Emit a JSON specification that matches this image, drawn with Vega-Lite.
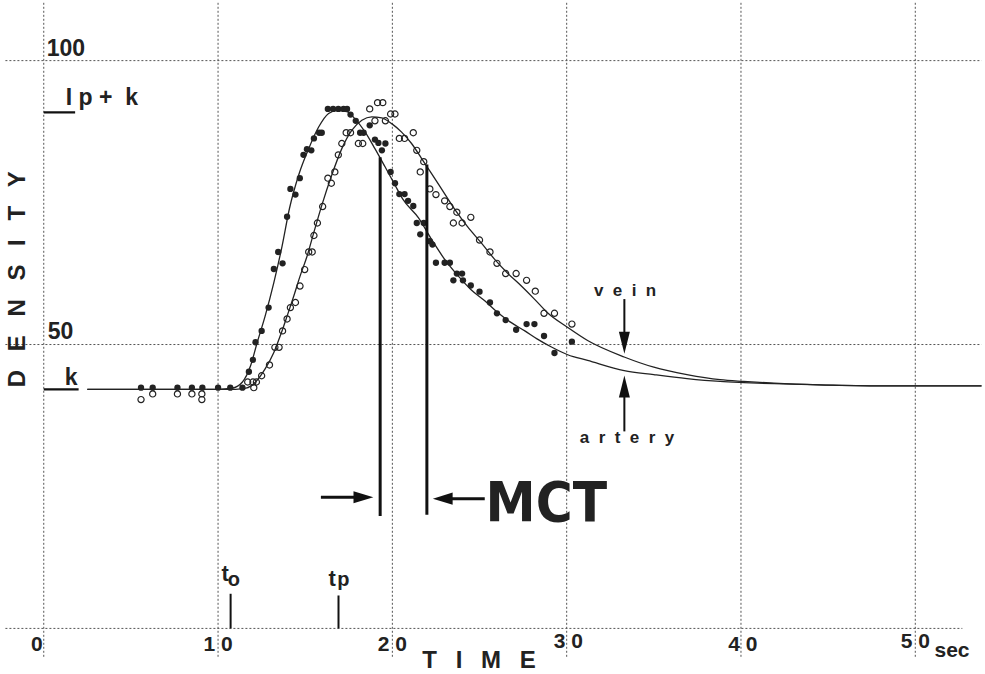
{
  "$schema": "https://vega.github.io/schema/vega-lite/v6.json",
  "width": 985,
  "height": 674,
  "autosize": {"type": "fit", "contains": "padding"},
  "padding": 0,
  "background": "white",
  "config": {"view": {"stroke": null}},
  "datasets": {
    "vgrid": [{"x": 0, "y": -5, "y2": 110.5}, {"x": 10, "y": -5, "y2": 110.5}, {"x": 20, "y": -5, "y2": 110.5}, {"x": 30, "y": -5, "y2": 110.5}, {"x": 40, "y": -5, "y2": 110.5}, {"x": 50, "y": -5, "y2": 110.5}],
    "hgrid": [{"y": 0, "x": -2.2, "x2": 52.7}, {"y": 50, "x": -2.2, "x2": 53.8}, {"y": 100, "x": -2.2, "x2": 53.8}],
    "curves": [
      {"s": "artery", "x": 2.5, "y": 42.1}, {"s": "artery", "x": 10.0, "y": 42.1}, {"s": "artery", "x": 10.8, "y": 42.3}, {"s": "artery", "x": 11.4, "y": 43.4}, {"s": "artery", "x": 11.87, "y": 46.3}, {"s": "artery", "x": 12.25, "y": 50.4}, {"s": "artery", "x": 12.7, "y": 55.0}, {"s": "artery", "x": 13.2, "y": 60.9}, {"s": "artery", "x": 13.67, "y": 67.3}, {"s": "artery", "x": 14.1, "y": 74.0}, {"s": "artery", "x": 14.63, "y": 79.9}, {"s": "artery", "x": 15.2, "y": 84.5}, {"s": "artery", "x": 15.77, "y": 88.3}, {"s": "artery", "x": 16.34, "y": 90.7}, {"s": "artery", "x": 16.8, "y": 91.2}, {"s": "artery", "x": 17.39, "y": 91.0}, {"s": "artery", "x": 17.87, "y": 89.7}, {"s": "artery", "x": 18.44, "y": 87.4}, {"s": "artery", "x": 19.0, "y": 84.5}, {"s": "artery", "x": 19.58, "y": 81.3}, {"s": "artery", "x": 20.15, "y": 78.1}, {"s": "artery", "x": 20.6, "y": 75.6}, {"s": "artery", "x": 21.5, "y": 72.3}, {"s": "artery", "x": 22.25, "y": 68.5}, {"s": "artery", "x": 23.0, "y": 65.0}, {"s": "artery", "x": 23.8, "y": 62.0}, {"s": "artery", "x": 24.5, "y": 59.7}, {"s": "artery", "x": 25.3, "y": 57.7}, {"s": "artery", "x": 26.06, "y": 55.6}, {"s": "artery", "x": 26.8, "y": 53.9}, {"s": "artery", "x": 27.6, "y": 52.4}, {"s": "artery", "x": 28.3, "y": 51.0}, {"s": "artery", "x": 29.1, "y": 49.6}, {"s": "artery", "x": 30.06, "y": 48.2}, {"s": "artery", "x": 31.2, "y": 47.2}, {"s": "artery", "x": 33.3, "y": 45.4}, {"s": "artery", "x": 35.0, "y": 44.7}, {"s": "artery", "x": 36.9, "y": 44.0}, {"s": "artery", "x": 38.8, "y": 43.5}, {"s": "artery", "x": 40.15, "y": 43.3}, {"s": "artery", "x": 41.9, "y": 43.1}, {"s": "artery", "x": 44.5, "y": 42.9}, {"s": "artery", "x": 48.3, "y": 42.7}, {"s": "artery", "x": 53.8, "y": 42.7},
      {"s": "vein", "x": 2.5, "y": 42.1}, {"s": "vein", "x": 11.0, "y": 42.1}, {"s": "vein", "x": 11.6, "y": 42.3}, {"s": "vein", "x": 12.15, "y": 43.4}, {"s": "vein", "x": 12.7, "y": 45.7}, {"s": "vein", "x": 13.2, "y": 48.6}, {"s": "vein", "x": 13.6, "y": 51.8}, {"s": "vein", "x": 13.96, "y": 55.0}, {"s": "vein", "x": 14.34, "y": 58.5}, {"s": "vein", "x": 14.7, "y": 62.0}, {"s": "vein", "x": 15.1, "y": 65.5}, {"s": "vein", "x": 15.5, "y": 69.8}, {"s": "vein", "x": 15.96, "y": 74.6}, {"s": "vein", "x": 16.53, "y": 79.9}, {"s": "vein", "x": 17.1, "y": 84.5}, {"s": "vein", "x": 17.67, "y": 87.7}, {"s": "vein", "x": 18.25, "y": 89.5}, {"s": "vein", "x": 18.82, "y": 90.1}, {"s": "vein", "x": 19.39, "y": 89.9}, {"s": "vein", "x": 19.96, "y": 88.9}, {"s": "vein", "x": 20.53, "y": 87.4}, {"s": "vein", "x": 21.1, "y": 85.4}, {"s": "vein", "x": 21.67, "y": 82.8}, {"s": "vein", "x": 22.25, "y": 80.1}, {"s": "vein", "x": 22.8, "y": 77.5}, {"s": "vein", "x": 23.6, "y": 73.7}, {"s": "vein", "x": 24.3, "y": 70.8}, {"s": "vein", "x": 25.1, "y": 67.9}, {"s": "vein", "x": 25.87, "y": 65.0}, {"s": "vein", "x": 26.6, "y": 62.6}, {"s": "vein", "x": 27.4, "y": 60.3}, {"s": "vein", "x": 28.15, "y": 58.0}, {"s": "vein", "x": 28.9, "y": 55.6}, {"s": "vein", "x": 30.06, "y": 53.0}, {"s": "vein", "x": 31.2, "y": 50.7}, {"s": "vein", "x": 33.3, "y": 47.8}, {"s": "vein", "x": 35.0, "y": 46.0}, {"s": "vein", "x": 36.9, "y": 44.7}, {"s": "vein", "x": 38.8, "y": 43.8}, {"s": "vein", "x": 40.15, "y": 43.5}, {"s": "vein", "x": 41.9, "y": 43.2}, {"s": "vein", "x": 44.5, "y": 42.9}, {"s": "vein", "x": 48.3, "y": 42.7}, {"s": "vein", "x": 53.8, "y": 42.7}
    ],
    "arteryDots": [
      {"x": 5.58, "y": 42.4}, {"x": 6.25, "y": 42.4}, {"x": 7.67, "y": 42.4}, {"x": 8.5, "y": 42.4}, {"x": 9.1, "y": 42.4}, {"x": 10.0, "y": 42.4}, {"x": 10.7, "y": 42.4}, {"x": 11.4, "y": 42.4},
      {"x": 11.77, "y": 45.2}, {"x": 12.0, "y": 47.3}, {"x": 12.15, "y": 50.4}, {"x": 12.5, "y": 52.4}, {"x": 12.9, "y": 56.5}, {"x": 13.2, "y": 63.3}, {"x": 13.45, "y": 66.3}, {"x": 13.7, "y": 64.3}, {"x": 13.96, "y": 72.5}, {"x": 14.15, "y": 77.4}, {"x": 14.44, "y": 76.4}, {"x": 14.69, "y": 79.3}, {"x": 14.9, "y": 83.4}, {"x": 15.1, "y": 84.4}, {"x": 15.35, "y": 84.2}, {"x": 15.5, "y": 86.3}, {"x": 15.8, "y": 87.3}, {"x": 15.95, "y": 87.3}, {"x": 16.3, "y": 91.5}, {"x": 16.6, "y": 91.5}, {"x": 16.9, "y": 91.5}, {"x": 17.2, "y": 91.5}, {"x": 17.4, "y": 91.5}, {"x": 17.6, "y": 90.5}, {"x": 17.9, "y": 89.4}, {"x": 18.15, "y": 87.3}, {"x": 18.35, "y": 87.3}, {"x": 18.7, "y": 88.6}, {"x": 19.0, "y": 86.1}, {"x": 19.2, "y": 85.5}, {"x": 19.4, "y": 84.2}, {"x": 19.6, "y": 85.4}, {"x": 19.9, "y": 80.4}, {"x": 20.15, "y": 78.4}, {"x": 20.4, "y": 76.5}, {"x": 20.7, "y": 76.5}, {"x": 20.9, "y": 75.3}, {"x": 21.2, "y": 74.4}, {"x": 21.4, "y": 71.4}, {"x": 21.8, "y": 71.4}, {"x": 21.6, "y": 69.4}, {"x": 22.15, "y": 68.2}, {"x": 22.3, "y": 67.6}, {"x": 22.5, "y": 64.4}, {"x": 23.0, "y": 64.4}, {"x": 23.3, "y": 64.4}, {"x": 23.7, "y": 62.5}, {"x": 24.0, "y": 62.5}, {"x": 23.5, "y": 61.3}, {"x": 24.05, "y": 61.3}, {"x": 24.5, "y": 60.4}, {"x": 25.0, "y": 59.3}, {"x": 25.6, "y": 57.4}, {"x": 26.0, "y": 55.5}, {"x": 26.5, "y": 54.3}, {"x": 27.1, "y": 52.6}, {"x": 27.7, "y": 53.6}, {"x": 28.15, "y": 53.6}, {"x": 28.7, "y": 51.5}, {"x": 29.3, "y": 48.5}, {"x": 30.3, "y": 50.5}
    ],
    "veinDots": [
      {"x": 5.58, "y": 40.3}, {"x": 6.25, "y": 41.3}, {"x": 7.67, "y": 41.3}, {"x": 8.5, "y": 41.3}, {"x": 9.07, "y": 41.3}, {"x": 9.07, "y": 40.3},
      {"x": 11.7, "y": 43.4}, {"x": 12.0, "y": 43.4}, {"x": 12.2, "y": 43.4}, {"x": 12.05, "y": 42.4}, {"x": 12.5, "y": 44.5}, {"x": 12.95, "y": 46.4}, {"x": 13.26, "y": 49.5}, {"x": 13.5, "y": 49.5}, {"x": 13.7, "y": 52.4}, {"x": 13.96, "y": 54.5}, {"x": 14.15, "y": 56.5}, {"x": 14.44, "y": 57.4}, {"x": 14.7, "y": 60.3}, {"x": 14.97, "y": 63.2}, {"x": 15.2, "y": 66.3}, {"x": 15.4, "y": 66.3}, {"x": 15.5, "y": 69.2}, {"x": 15.7, "y": 71.4}, {"x": 16.0, "y": 74.3}, {"x": 16.3, "y": 79.3}, {"x": 16.5, "y": 78.4}, {"x": 16.7, "y": 80.4}, {"x": 16.9, "y": 83.4}, {"x": 17.1, "y": 85.4}, {"x": 17.35, "y": 87.3}, {"x": 17.6, "y": 87.3}, {"x": 18.05, "y": 85.4}, {"x": 18.3, "y": 85.4}, {"x": 18.7, "y": 91.5}, {"x": 19.0, "y": 89.4}, {"x": 19.15, "y": 92.6}, {"x": 19.45, "y": 92.6}, {"x": 19.6, "y": 89.4}, {"x": 19.9, "y": 90.6}, {"x": 20.15, "y": 90.6}, {"x": 20.4, "y": 86.3}, {"x": 20.7, "y": 86.3}, {"x": 21.2, "y": 87.3}, {"x": 21.4, "y": 84.2}, {"x": 21.8, "y": 82.2}, {"x": 21.6, "y": 80.4}, {"x": 22.15, "y": 77.4}, {"x": 22.5, "y": 76.4}, {"x": 23.0, "y": 75.3}, {"x": 23.3, "y": 74.3}, {"x": 23.7, "y": 73.3}, {"x": 24.5, "y": 72.4}, {"x": 23.5, "y": 71.4}, {"x": 24.0, "y": 71.4}, {"x": 25.0, "y": 68.4}, {"x": 25.6, "y": 66.3}, {"x": 26.0, "y": 64.3}, {"x": 26.5, "y": 62.5}, {"x": 27.1, "y": 62.5}, {"x": 27.7, "y": 61.3}, {"x": 28.2, "y": 59.4}, {"x": 28.7, "y": 55.5}, {"x": 29.3, "y": 55.5}, {"x": 30.3, "y": 53.6}
    ],
    "thickV": [{"x": 19.3, "y": 19.8, "y2": 83.0}, {"x": 21.98, "y": 20.0, "y2": 81.7}],
    "thickH": [{"y": 23.1, "x": 15.9, "x2": 18.3}, {"y": 22.85, "x": 22.9, "x2": 25.3}],
    "thinV": [{"x": 33.31, "y": 58.0, "y2": 50.0}, {"x": 33.31, "y": 34.7, "y2": 42.6}, {"x": 10.72, "y": 0, "y2": 6.1}, {"x": 16.91, "y": 0, "y2": 5.8}],
    "underlines": [{"y": 90.9, "x": 0, "x2": 1.8}, {"y": 42.1, "x": 0, "x2": 2.0}],
    "heads": [{"x": 18.34, "y": 23.1, "dir": "right"}, {"x": 22.89, "y": 22.85, "dir": "left"}, {"x": 33.31, "y": 50.3, "dir": "down"}, {"x": 33.31, "y": 42.6, "dir": "up"}],
    "leftLabels": [{"x": 0.17, "y": 100.9, "t": "100"}, {"x": 0.23, "y": 51.0, "t": "50"}, {"x": 1.26, "y": 92.1, "t": "I\u00a0p\u00a0+\u00a0\u00a0k"}, {"x": 1.2, "y": 42.9, "t": "k"}],
    "tickLabels": [{"x": -0.4, "y": -3.9, "t": "0"}, {"x": 10.0, "y": -3.9, "t": "1 0"}, {"x": 20.0, "y": -3.9, "t": "2 0"}, {"x": 30.1, "y": -3.5, "t": "3 0"}, {"x": 40.1, "y": -3.9, "t": "4 0"}, {"x": 50.0, "y": -3.5, "t": "5 0"}],
    "sec": [{"x": 51.1, "y": -5.1, "t": "sec"}],
    "timeT": [{"x": 24.97, "y": -7.0, "t": "T\u2002\u00a0I\u2002\u00a0M\u2002\u00a0E"}],
    "dens": [{"x": -1.49, "y": 61.5, "t": "D\u2002\u00a0E\u2002\u00a0N\u2002\u00a0S\u2002\u00a0I\u2002\u00a0T\u2002\u00a0Y"}],
    "tLetters": [{"x": 10.2, "y": 8.4, "t": "t"}, {"x": 16.34, "y": 7.5, "t": "t"}],
    "subs": [{"x": 10.55, "y": 7.5, "t": "o"}, {"x": 16.84, "y": 7.5, "t": "p"}],
    "names": [{"x": 33.35, "y": 58.5, "t": "v\u00a0\u00a0e\u00a0\u00a0i\u00a0\u00a0n"}, {"x": 33.46, "y": 32.6, "t": "a\u00a0\u00a0r\u00a0\u00a0t\u00a0\u00a0e\u00a0\u00a0r\u00a0\u00a0y"}],
    "mct": [{"x": 28.83, "y": 19.0, "t": "MCT"}]
  },
  "encoding": {
    "x": {"field": "x", "type": "quantitative", "scale": {"domain": [-2.51, 53.77], "nice": false, "zero": false}, "axis": null},
    "y": {"field": "y", "type": "quantitative", "scale": {"domain": [-7.5, 110.5], "nice": false, "zero": false}, "axis": null}
  },
  "layer": [
    {"data": {"name": "vgrid"}, "mark": {"type": "rule", "color": "#555", "strokeWidth": 1, "strokeDash": [2, 2]}, "encoding": {"y2": {"field": "y2"}}},
    {"data": {"name": "hgrid"}, "mark": {"type": "rule", "color": "#555", "strokeWidth": 1, "strokeDash": [2, 2]}, "encoding": {"x2": {"field": "x2"}}},
    {"data": {"name": "curves"}, "mark": {"type": "line", "color": "#222", "strokeWidth": 1.3, "interpolate": "monotone"}, "encoding": {"detail": {"field": "s"}}},
    {"data": {"name": "arteryDots"}, "mark": {"type": "point", "shape": "circle", "filled": true, "color": "#222", "size": 40, "opacity": 1}, "encoding": {}},
    {"data": {"name": "veinDots"}, "mark": {"type": "point", "shape": "circle", "filled": false, "color": "#222", "strokeWidth": 1.2, "size": 38, "opacity": 1}, "encoding": {}},
    {"data": {"name": "thickV"}, "mark": {"type": "rule", "color": "#111", "strokeWidth": 3}, "encoding": {"y2": {"field": "y2"}}},
    {"data": {"name": "thickH"}, "mark": {"type": "rule", "color": "#111", "strokeWidth": 3}, "encoding": {"x2": {"field": "x2"}}},
    {"data": {"name": "thinV"}, "mark": {"type": "rule", "color": "#111", "strokeWidth": 2}, "encoding": {"y2": {"field": "y2"}}},
    {"data": {"name": "underlines"}, "mark": {"type": "rule", "color": "#111", "strokeWidth": 2.2}, "encoding": {"x2": {"field": "x2"}}},
    {"data": {"name": "heads"}, "mark": {"type": "point", "filled": true, "color": "#111", "size": 484, "opacity": 1},
      "encoding": {"shape": {"field": "dir", "type": "nominal", "legend": null, "scale": {"domain": ["right", "left", "down", "up"], "range": ["M-0.9,-0.55L0.9,0L-0.9,0.55Z", "M0.9,-0.55L-0.9,0L0.9,0.55Z", "M-0.5,-1L0.5,-1L0,1Z", "M-0.5,1L0.5,1L0,-1Z"]}}}},
    {"data": {"name": "leftLabels"}, "mark": {"type": "text", "align": "left", "baseline": "alphabetic", "font": "Liberation Sans", "fontWeight": "bold", "fontSize": 23, "color": "#222"}, "encoding": {"text": {"field": "t"}}},
    {"data": {"name": "tickLabels"}, "mark": {"type": "text", "align": "center", "baseline": "alphabetic", "font": "Liberation Sans", "fontWeight": "bold", "fontSize": 21, "color": "#222"}, "encoding": {"text": {"field": "t"}}},
    {"data": {"name": "sec"}, "mark": {"type": "text", "align": "left", "baseline": "alphabetic", "font": "Liberation Sans", "fontWeight": "bold", "fontSize": 21, "color": "#222"}, "encoding": {"text": {"field": "t"}}},
    {"data": {"name": "timeT"}, "mark": {"type": "text", "align": "center", "baseline": "alphabetic", "font": "Liberation Sans", "fontWeight": "bold", "fontSize": 24, "color": "#222"}, "encoding": {"text": {"field": "t"}}},
    {"data": {"name": "dens"}, "mark": {"type": "text", "align": "center", "baseline": "middle", "angle": 270, "font": "Liberation Sans", "fontWeight": "bold", "fontSize": 24, "color": "#222"}, "encoding": {"text": {"field": "t"}}},
    {"data": {"name": "tLetters"}, "mark": {"type": "text", "align": "left", "baseline": "alphabetic", "font": "Liberation Sans", "fontWeight": "bold", "fontSize": 22, "color": "#222"}, "encoding": {"text": {"field": "t"}}},
    {"data": {"name": "subs"}, "mark": {"type": "text", "align": "left", "baseline": "alphabetic", "font": "Liberation Sans", "fontWeight": "bold", "fontSize": 20, "color": "#222"}, "encoding": {"text": {"field": "t"}}},
    {"data": {"name": "names"}, "mark": {"type": "text", "align": "center", "baseline": "alphabetic", "font": "Liberation Sans", "fontWeight": "bold", "fontSize": 17, "color": "#222"}, "encoding": {"text": {"field": "t"}}},
    {"data": {"name": "mct"}, "mark": {"type": "text", "align": "center", "baseline": "alphabetic", "font": "Liberation Sans Narrow, DejaVu Sans Condensed, sans-serif", "fontWeight": "bold", "fontSize": 56, "color": "#222"}, "encoding": {"text": {"field": "t"}}}
  ]
}
